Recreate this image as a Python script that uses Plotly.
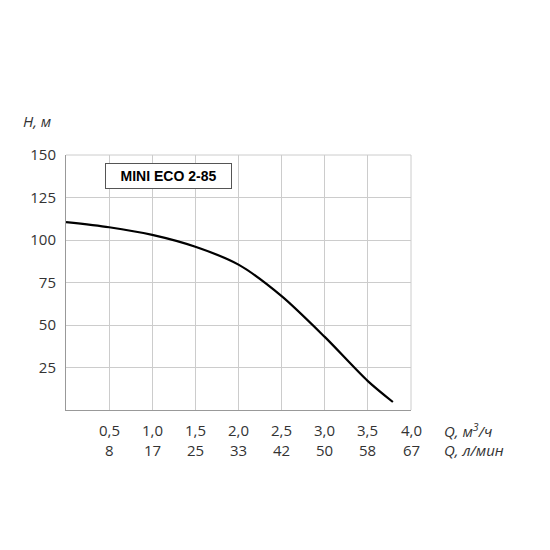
import plotly.graph_objects as go

# pump curve
q_m3h = [0.0, 0.5, 1.0, 1.5, 2.0, 2.5, 3.0, 3.5, 3.79]
head_m = [110.5, 107.5, 103, 96, 85.5, 67, 43, 17, 4.7]

q_ticks = [0.5, 1.0, 1.5, 2.0, 2.5, 3.0, 3.5, 4.0]
q_labels = ["0,5", "1,0", "1,5", "2,0", "2,5", "3,0", "3,5", "4,0"]
lmin_labels = ["8", "17", "25", "33", "42", "50", "58", "67"]
h_ticks = [25, 50, 75, 100, 125, 150]

font_main = dict(family="Open Sans", size=15, color="#333")
grid = "#cccccc"

fig = go.Figure()
fig.add_trace(go.Scatter(x=q_m3h, y=head_m, mode="lines", line=dict(color="black", width=2.2, shape="spline", smoothing=0.8), showlegend=False))

annotations = []
for t, a, b in zip(q_ticks, q_labels, lmin_labels):
    annotations.append(dict(x=t, y=-0.03, xref="x", yref="paper", text=a, showarrow=False, yanchor="top", font=font_main))
    annotations.append(dict(x=t, y=-0.11, xref="x", yref="paper", text=b, showarrow=False, yanchor="top", font=font_main))
annotations += [
    dict(x=1.09, y=-0.03, xref="paper", yref="paper", text="<i>Q, м<sup>3</sup>/ч</i>", showarrow=False, xanchor="left", yanchor="top", font=font_main),
    dict(x=1.09, y=-0.11, xref="paper", yref="paper", text="<i>Q, л/мин</i>", showarrow=False, xanchor="left", yanchor="top", font=font_main),
    dict(x=-0.13, y=1.18, xref="paper", yref="paper", text="<i>H, м</i>", showarrow=False, xanchor="left", font=font_main),
    dict(x=0.455, y=137.5, xref="x", yref="y", text="<b>MINI ECO 2-85</b>", showarrow=False,
         font=dict(family="Arial", size=14, color="black"), bordercolor="#555", borderwidth=1,
         width=123, height=22, bgcolor="white", xanchor="left"),
]

fig.update_layout(
    width=550, height=550,
    margin=dict(l=58, r=147, t=147, b=148),
    plot_bgcolor="white", paper_bgcolor="white",
    annotations=annotations,
)
fig.update_xaxes(range=[0, 4.0], tickvals=q_ticks, showticklabels=False, showgrid=True, gridcolor=grid,
                 showline=True, linecolor="#999", zeroline=False, mirror=False)
fig.update_yaxes(range=[0, 150], tickvals=h_ticks, ticktext=[str(v) for v in h_ticks], showgrid=True, gridcolor=grid,
                 showline=True, linecolor="#999", zeroline=False, tickfont=font_main, ticks="", ticklabelstandoff=6)
fig.add_shape(type="line", xref="paper", yref="paper", x0=1, x1=1, y0=0, y1=1, line=dict(color=grid, width=1))
fig.add_shape(type="line", xref="paper", yref="paper", x0=0, x1=1, y0=1, y1=1, line=dict(color=grid, width=1))

fig.write_html("out.html")
